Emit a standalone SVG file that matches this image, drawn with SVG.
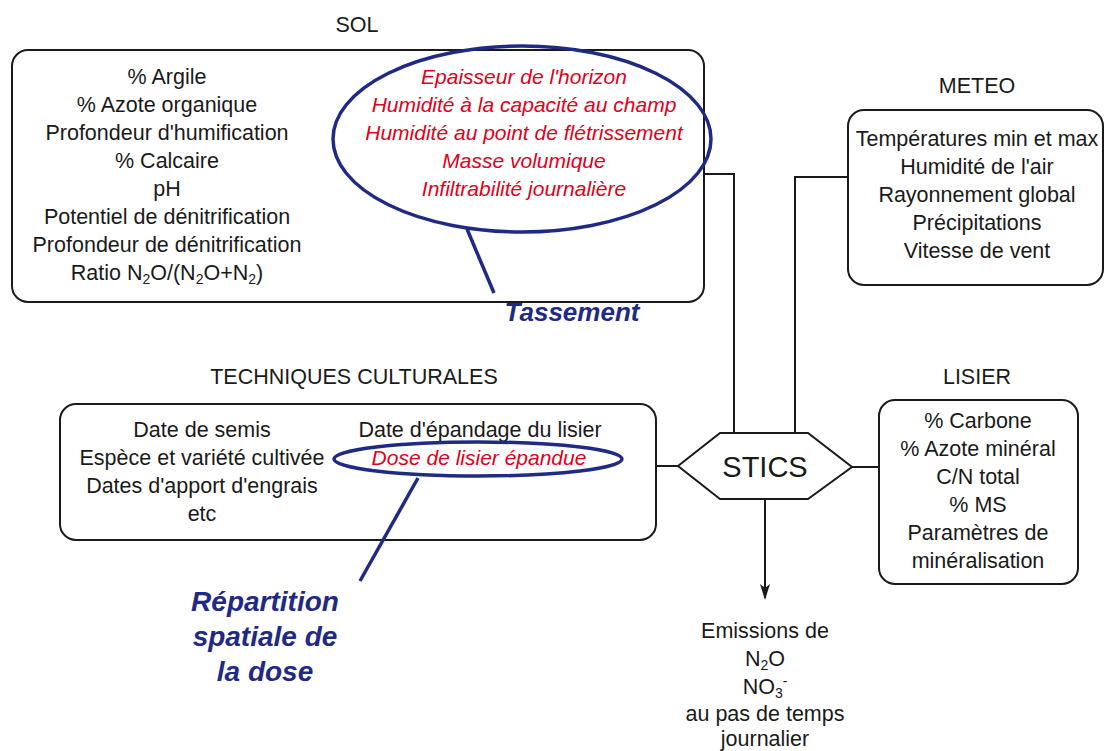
<svg xmlns="http://www.w3.org/2000/svg" width="1105" height="751" viewBox="0 0 1105 751">
<style>
.box{fill:#fff;stroke:#1a1a1a;stroke-width:2}
.t{font-family:"Liberation Sans",Arial,sans-serif;font-size:21.5px;fill:#1a1a1a;text-anchor:middle}
.r{font-family:"Liberation Sans",Arial,sans-serif;font-size:21px;fill:#e2001a;font-style:italic;text-anchor:middle}
.b{font-family:"Liberation Sans",Arial,sans-serif;font-weight:bold;font-style:italic;fill:#1f2a85;text-anchor:middle}
.ell{fill:none;stroke:#1f2a85;stroke-width:3.5}
.c{fill:none;stroke:#1a1a1a;stroke-width:2}
.s{font-size:14px}
</style>
<defs>
<marker id="arr" markerWidth="16" markerHeight="12" refX="14" refY="6" orient="auto" markerUnits="userSpaceOnUse" viewBox="0 0 16 12">
<path d="M0,1 L16,6 L0,11 L4,6 Z" fill="#1a1a1a"/>
</marker>
</defs>
<rect width="1105" height="751" fill="#fff"/>
<g id="connectors">
<polyline class="c" points="704,174 734,174 734,433"/>
<polyline class="c" points="848,177 795,177 795,433"/>
<line class="c" x1="656" y1="466" x2="678" y2="466"/>
<line class="c" x1="852" y1="467" x2="879" y2="467"/>
<line class="c" x1="765" y1="500" x2="765" y2="598" marker-end="url(#arr)"/>
</g>
<g id="sol">
<text class="t" x="357" y="32">SOL</text>
<rect class="box" x="12" y="50" width="692" height="252" rx="16"/>
<text class="t" x="167" y="84">% Argile</text>
<text class="t" x="167" y="112">% Azote organique</text>
<text class="t" x="167" y="140">Profondeur d'humification</text>
<text class="t" x="167" y="168">% Calcaire</text>
<text class="t" x="167" y="196">pH</text>
<text class="t" x="167" y="224">Potentiel de dénitrification</text>
<text class="t" x="167" y="252">Profondeur de dénitrification</text>
<text class="t" x="167" y="280">Ratio N<tspan class="s" dy="4">2</tspan><tspan dy="-4">O/(N</tspan><tspan class="s" dy="4">2</tspan><tspan dy="-4">O+N</tspan><tspan class="s" dy="4">2</tspan><tspan dy="-4">)</tspan></text>
<text class="r" x="524" y="84">Epaisseur  de l'horizon</text>
<text class="r" x="524" y="112">Humidité à la capacité au champ</text>
<text class="r" x="524" y="140">Humidité au point de flétrissement</text>
<text class="r" x="524" y="168">Masse volumique</text>
<text class="r" x="524" y="196">Infiltrabilité journalière</text>
</g>
<g id="tassement">
<ellipse class="ell" cx="522" cy="139" rx="189" ry="93"/>
<line class="ell" x1="467" y1="229" x2="494" y2="293"/>
<text class="b" x="572" y="321" font-size="26">Tassement</text>
</g>
<g id="meteo">
<text class="t" x="977" y="93">METEO</text>
<rect class="box" x="848" y="110" width="255" height="175" rx="16"/>
<text class="t" x="977" y="146">Températures min et max</text>
<text class="t" x="977" y="174">Humidité de l'air</text>
<text class="t" x="977" y="202">Rayonnement global</text>
<text class="t" x="977" y="230">Précipitations</text>
<text class="t" x="977" y="258">Vitesse de vent</text>
</g>
<g id="techniques">
<text class="t" x="354" y="384">TECHNIQUES CULTURALES</text>
<rect class="box" x="60" y="404" width="596" height="136" rx="16"/>
<text class="t" x="202" y="437">Date de semis</text>
<text class="t" x="202" y="465">Espèce et variété cultivée</text>
<text class="t" x="202" y="493">Dates d'apport d'engrais</text>
<text class="t" x="202" y="521">etc</text>
<text class="t" x="480" y="437">Date d'épandage du lisier</text>
<text class="r" x="479" y="465">Dose de lisier épandue</text>
</g>
<g id="repartition">
<ellipse class="ell" cx="478" cy="459" rx="144" ry="17"/>
<line class="ell" x1="418" y1="478" x2="360" y2="581"/>
<text class="b" x="265" y="611" font-size="28">Répartition</text>
<text class="b" x="265" y="646" font-size="28">spatiale de</text>
<text class="b" x="265" y="681" font-size="28">la dose</text>
</g>
<g id="lisier">
<text class="t" x="977" y="384">LISIER</text>
<rect class="box" x="879" y="400" width="199" height="184" rx="16"/>
<text class="t" x="978" y="428">% Carbone</text>
<text class="t" x="978" y="456">% Azote minéral</text>
<text class="t" x="978" y="484">C/N total</text>
<text class="t" x="978" y="512">% MS</text>
<text class="t" x="978" y="540">Paramètres de</text>
<text class="t" x="978" y="568">minéralisation</text>
</g>
<g id="stics">
<polygon class="box" points="678,466 720,433 808,433 852,467 808,499 720,499"/>
<text class="t" x="765" y="477" style="font-size:29px">STICS</text>
</g>
<g id="emissions">
<text class="t" x="765" y="638">Emissions de</text>
<text class="t" x="765" y="666">N<tspan class="s" dy="4">2</tspan><tspan dy="-4">O</tspan></text>
<text class="t" x="765" y="694">NO<tspan class="s" dy="4">3</tspan><tspan class="s" dy="-12">-</tspan></text>
<text class="t" x="765" y="721">au pas de temps</text>
<text class="t" x="765" y="746">journalier</text>
</g>
</svg>
